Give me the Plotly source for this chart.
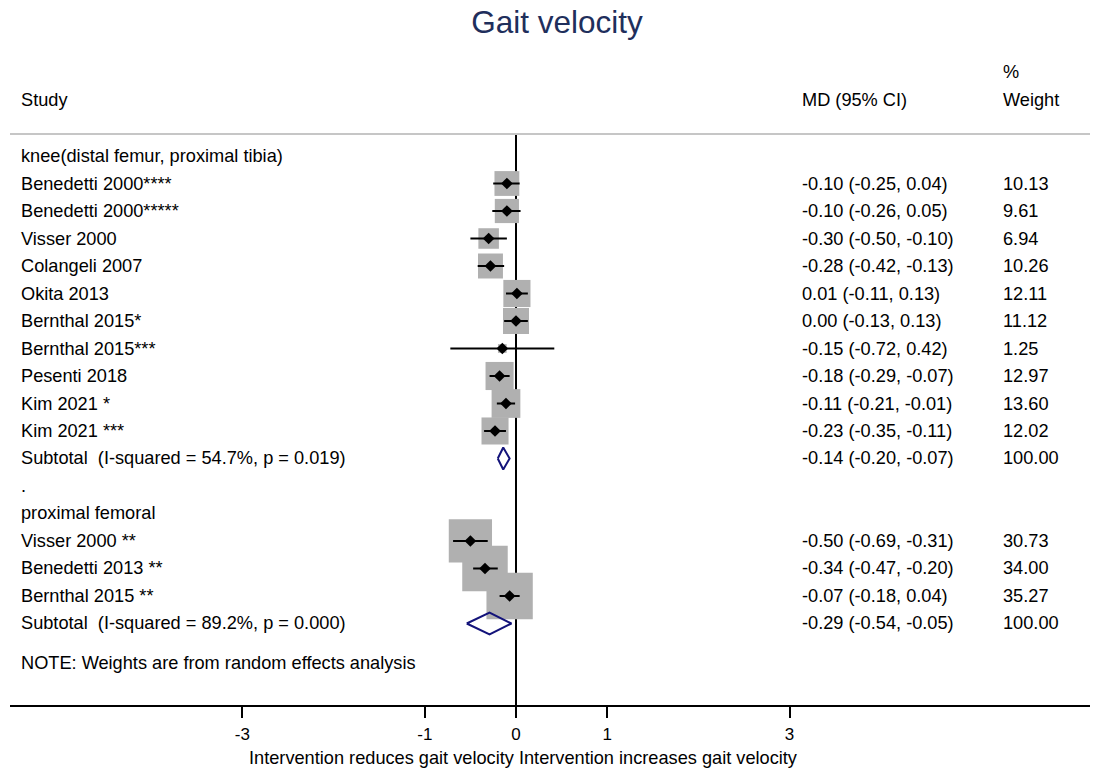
import plotly.graph_objects as go

# ---------------- data ----------------
group_names = ["knee(distal femur, proximal tibia)", "proximal femoral"]

knee_studies = ["Benedetti 2000****", "Benedetti 2000*****", "Visser 2000", "Colangeli 2007",
                "Okita 2013", "Bernthal 2015*", "Bernthal 2015***", "Pesenti 2018",
                "Kim 2021 *", "Kim 2021 ***"]
knee_md = [-0.10, -0.10, -0.30, -0.28, 0.01, 0.00, -0.15, -0.18, -0.11, -0.23]
knee_lo = [-0.25, -0.26, -0.50, -0.42, -0.11, -0.13, -0.72, -0.29, -0.21, -0.35]
knee_hi = [0.04, 0.05, -0.10, -0.13, 0.13, 0.13, 0.42, -0.07, -0.01, -0.11]
knee_w = [10.13, 9.61, 6.94, 10.26, 12.11, 11.12, 1.25, 12.97, 13.60, 12.02]

prox_studies = ["Visser 2000 **", "Benedetti 2013 **", "Bernthal 2015 **"]
prox_md = [-0.50, -0.34, -0.07]
prox_lo = [-0.69, -0.47, -0.18]
prox_hi = [-0.31, -0.20, 0.04]
prox_w = [30.73, 34.00, 35.27]

sub_labels = ["Subtotal  (I-squared = 54.7%, p = 0.019)", "Subtotal  (I-squared = 89.2%, p = 0.000)"]
sub_md = [-0.14, -0.29]
sub_lo = [-0.20, -0.54]
sub_hi = [-0.07, -0.05]
sub_w = [100.00, 100.00]

tick_vals = [-3, -1, 0, 1, 3]
tick_text = ["-3", "-1", "0", "1", "3"]

title_text = "Gait velocity"
x_title = "Intervention reduces gait velocity Intervention increases gait velocity"
note_text = "NOTE: Weights are from random effects analysis"

# ---------------- layout of rows ----------------
FONT = "Liberation Sans, Arial, Helvetica, sans-serif"
TXT = 18.2

rows_text = []  # (row, label, mdtext, wtext)
study_rows, s_md, s_lo, s_hi, s_w = [], [], [], [], []
sub_rows = []

r = 0
rows_text.append((r, group_names[0], "", ""))
r += 1
for name, m, lo, hi, w in zip(knee_studies, knee_md, knee_lo, knee_hi, knee_w):
    study_rows.append(r); s_md.append(m); s_lo.append(lo); s_hi.append(hi); s_w.append(w)
    rows_text.append((r, name, f"{m:.2f} ({lo:.2f}, {hi:.2f})", f"{w:.2f}"))
    r += 1
sub_rows.append(r)
rows_text.append((r, sub_labels[0], f"{sub_md[0]:.2f} ({sub_lo[0]:.2f}, {sub_hi[0]:.2f})", f"{sub_w[0]:.2f}"))
r += 1
rows_text.append((r, ".", "", ""))
r += 1
rows_text.append((r, group_names[1], "", ""))
r += 1
for name, m, lo, hi, w in zip(prox_studies, prox_md, prox_lo, prox_hi, prox_w):
    study_rows.append(r); s_md.append(m); s_lo.append(lo); s_hi.append(hi); s_w.append(w)
    rows_text.append((r, name, f"{m:.2f} ({lo:.2f}, {hi:.2f})", f"{w:.2f}"))
    r += 1
sub_rows.append(r)
rows_text.append((r, sub_labels[1], f"{sub_md[1]:.2f} ({sub_lo[1]:.2f}, {sub_hi[1]:.2f})", f"{sub_w[1]:.2f}"))
note_row = r + 1.44

fig = go.Figure()

# weight squares
fig.add_trace(go.Scatter(
    x=s_md, y=study_rows, mode="markers",
    marker=dict(symbol="square", size=[7.8 * (w ** 0.5) for w in s_w], color="#b0b0b0",
                opacity=1, line=dict(width=0)),
    hoverinfo="skip", showlegend=False, cliponaxis=False))

# CI lines
cx, cy = [], []
for m, lo, hi, rr in zip(s_md, s_lo, s_hi, study_rows):
    cx += [lo, hi, None]
    cy += [rr, rr, None]
fig.add_trace(go.Scatter(x=cx, y=cy, mode="lines", line=dict(color="black", width=2),
                         hoverinfo="skip", showlegend=False))

# point estimates
fig.add_trace(go.Scatter(x=s_md, y=study_rows, mode="markers",
                         marker=dict(symbol="diamond", size=9, color="black"),
                         hoverinfo="skip", showlegend=False))

# subtotal diamonds
H = 0.4
for m, lo, hi, rr in zip(sub_md, sub_lo, sub_hi, sub_rows):
    fig.add_trace(go.Scatter(x=[lo, m, hi, m, lo], y=[rr, rr - H, rr, rr + H, rr],
                             mode="lines", line=dict(color="#13137a", width=2),
                             hoverinfo="skip", showlegend=False))

# ---------------- text ----------------
X_LABEL = (19 - 10) / 1080
X_MD = (800 - 10) / 1080
X_W = (1001 - 10) / 1080
ann = []
for rr, lab, mdt, wt in rows_text:
    ann.append(dict(x=X_LABEL, y=rr, xref="paper", yref="y", text=lab, xanchor="left",
                    yanchor="middle", showarrow=False))
    if mdt:
        ann.append(dict(x=X_MD, y=rr, xref="paper", yref="y", text=mdt, xanchor="left",
                        yanchor="middle", showarrow=False))
    if wt:
        ann.append(dict(x=X_W, y=rr, xref="paper", yref="y", text=wt, xanchor="left",
                        yanchor="middle", showarrow=False))
ann.append(dict(x=X_LABEL, y=note_row, xref="paper", yref="y", text=note_text, xanchor="left",
                yanchor="middle", showarrow=False))

# headers
PLOT_TOP, PLOT_BOT = 134, 705
def py(pix):
    return (PLOT_BOT - pix) / (PLOT_BOT - PLOT_TOP)
ann.append(dict(x=X_LABEL, y=py(100), xref="paper", yref="paper", text="Study",
                xanchor="left", yanchor="middle", showarrow=False))
ann.append(dict(x=X_MD, y=py(100), xref="paper", yref="paper", text="MD (95% CI)",
                xanchor="left", yanchor="middle", showarrow=False))
ann.append(dict(x=X_W, y=py(72), xref="paper", yref="paper", text="%",
                xanchor="left", yanchor="middle", showarrow=False))
ann.append(dict(x=X_W, y=py(100), xref="paper", yref="paper", text="Weight",
                xanchor="left", yanchor="middle", showarrow=False))
# x-axis caption (positioned like the reference, off-centre)
ann.append(dict(x=(523.5 - 10) / 1080, y=py(758), xref="paper", yref="paper", text=x_title,
                xanchor="center", yanchor="middle", showarrow=False,
                font=dict(size=18.2, family=FONT, color="black")))

fig.update_layout(
    width=1097, height=769,
    margin=dict(l=10, r=7, t=PLOT_TOP, b=769 - PLOT_BOT),
    paper_bgcolor="white", plot_bgcolor="white",
    font=dict(family=FONT, size=TXT, color="black"),
    annotations=ann,
    title=dict(text=title_text, x=557 / 1097, xanchor="center", y=1 - 22 / 769, yanchor="middle",
               font=dict(family=FONT, size=31.5, color="#1f2f5c")),
    shapes=[dict(type="line", xref="paper", yref="paper", x0=0, x1=1, y0=1, y1=1,
                 line=dict(color="#c6c6c6", width=2))],
    showlegend=False,
)

fig.update_xaxes(
    range=[(10 - 516) / 91.2, (1090 - 516) / 91.2],
    tickvals=tick_vals, ticktext=tick_text,
    ticks="outside", ticklen=11, tickwidth=1.5, tickcolor="black",
    tickfont=dict(size=17, family=FONT, color="black"),
    ticklabelstandoff=2,
    showline=True, linecolor="black", linewidth=2,
    showgrid=False, zeroline=True, zerolinecolor="black", zerolinewidth=1.5,
    automargin=False,
    fixedrange=True,
)
fig.update_yaxes(range=[19.964, -0.8], visible=False, showgrid=False, zeroline=False,
                 automargin=False)

fig.write_html("out.html")
